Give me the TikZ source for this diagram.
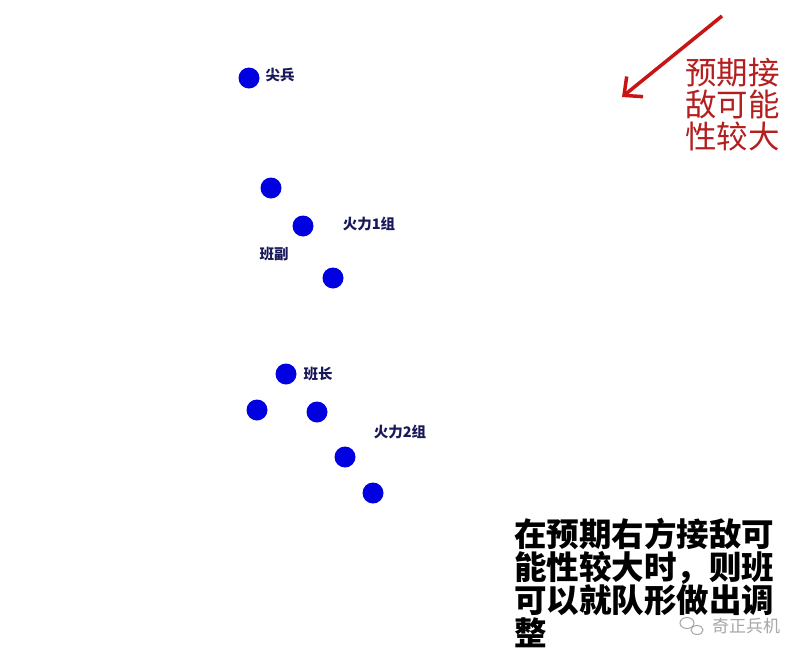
\documentclass[tikz,border=0pt]{standalone}
\usepackage{fontspec}
\newfontfamily\cjk{Noto Sans CJK SC}
\usetikzlibrary{arrows.meta}
\definecolor{dotblue}{RGB}{0,0,225}
\definecolor{navy}{RGB}{25,25,90}
\definecolor{arrred}{RGB}{200,20,20}
\definecolor{txtred}{RGB}{180,30,30}
\tikzset{
  soldier/.style={circle,fill=dotblue,minimum size=21pt,inner sep=0pt},
  lbl/.style={font=\cjk\bfseries\fontsize{14.5}{15}\selectfont,text=navy,inner sep=0pt},
  redtxt/.style={font=\cjk\fontsize{31.5}{32}\selectfont,text=txtred,align=left,inner sep=0pt,anchor=north west},
  blktxt/.style={font=\cjk\bfseries\fontsize{32.5}{33}\selectfont,text=black,align=left,inner sep=0pt,anchor=north west},
}
\begin{document}
\begin{tikzpicture}[x=1pt,y=-1pt]
\useasboundingbox[fill=white] (0,0) rectangle (809,659);
% soldiers
\node[soldier] (s1) at (249,78) {};
\node[soldier] (s2) at (271,188) {};
\node[soldier] (s3) at (303,226) {};
\node[soldier] (s4) at (333,278) {};
\node[soldier] (s5) at (286,374) {};
\node[soldier] (s6) at (257,410) {};
\node[soldier] (s7) at (317,412) {};
\node[soldier] (s8) at (345,457) {};
\node[soldier] (s9) at (373,493) {};
% labels
\node[lbl] (l1) at (280,75) {尖兵};
\node[lbl] (l2) at (369,224) {火力1组};
\node[lbl] (l3) at (274,254) {班副};
\node[lbl] (l4) at (318,374) {班长};
\node[lbl] (l5) at (400,432) {火力2组};
% arrow
\coordinate (a1) at (722,16);
\coordinate (a2) at (622,97);
\draw[arrred,line width=3.5pt,-{Straight Barb[length=14pt,width=26pt,line width=3.5pt]}] (a1) -- (a2);
\node[redtxt] (rt) at (685,58) {预期接\\敌可能\\性较大};
% bottom text
\node[blktxt] (bt) at (514,518) {在预期右方接敌可\\能性较大时，则班\\可以就队形做出调\\整};
% watermark
\node[font=\cjk\fontsize{17}{18}\selectfont,text=gray!70,inner sep=0pt] (wm) at (746,626) {奇正兵机};
\draw[gray!70,line width=1pt] (687,623) ellipse (7pt and 5.5pt);
\draw[gray!70,line width=1pt,fill=white] (697,630) ellipse (6pt and 4.5pt);
\end{tikzpicture}
\end{document}
